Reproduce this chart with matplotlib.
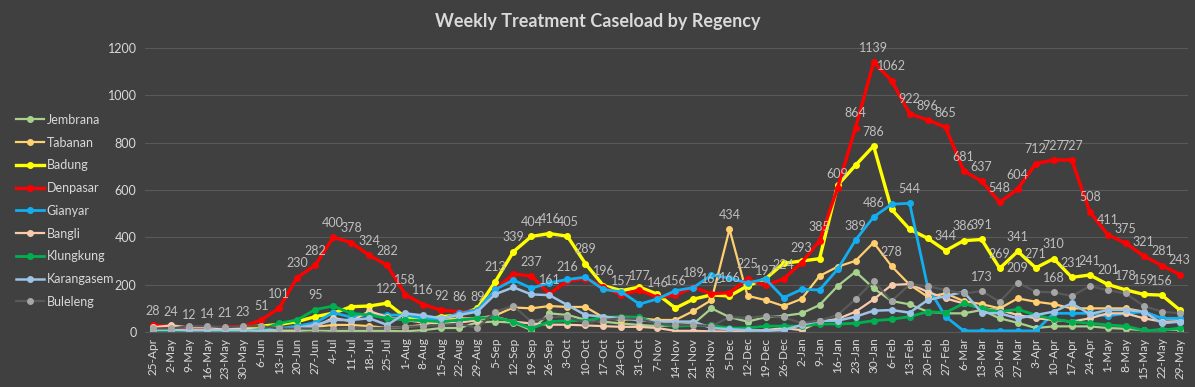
import matplotlib
matplotlib.use("Agg")
import matplotlib.pyplot as plt

plt.rcParams['font.family'] = ['Lato', 'DejaVu Sans']

weeks = ["25-Apr", "2-May", "9-May", "16-May", "23-May", "30-May", "6-Jun", "13-Jun",
         "20-Jun", "27-Jun", "4-Jul", "11-Jul", "18-Jul", "25-Jul", "1-Aug", "8-Aug",
         "15-Aug", "22-Aug", "29-Aug", "5-Sep", "12-Sep", "19-Sep", "26-Sep", "3-Oct",
         "10-Oct", "17-Oct", "24-Oct", "31-Oct", "7-Nov", "14-Nov", "21-Nov", "28-Nov",
         "5-Dec", "12-Dec", "19-Dec", "26-Dec", "2-Jan", "9-Jan", "16-Jan", "23-Jan",
         "30-Jan", "6-Feb", "13-Feb", "20-Feb", "27-Feb", "6-Mar", "13-Mar", "20-Mar",
         "27-Mar", "3-Apr", "10-Apr", "17-Apr", "24-Apr", "1-May", "8-May", "15-May",
         "22-May", "29-May"]

jembrana = [2, 2, 2, 2, 2, 2, 2, 3, 5, 8, 5, 5, 5, 5, 3, 8, 17, 17, 41,
            44, 40, 8, 79, 72, 52, 44, 36, 30, 25, 30, 35, 100, 63, 44,
            63, 68, 79, 114, 194, 255, 185, 131, 117, 86, 79, 79, 93, 58,
            39, 17, 24, 24, 24, 17, 14, 7, 10, 10]
tabanan = [5, 5, 5, 5, 12, 15, 15, 15, 18, 22, 30, 30, 25, 17, 22, 30, 51, 58, 58,
           70, 104, 100, 110, 106, 106, 62, 51, 58, 51, 51, 89, 135, 434, 153,
           135, 110, 140, 237, 276, 301, 378, 278, 200, 149, 163, 131, 118, 100,
           142, 128, 118, 100, 100, 100, 100, 86, 58, 51]
badung = [10, 10, 8, 8, 15, 20, 25, 32, 44, 65, 80, 107, 110, 122, 63, 51, 65, 72, 100,
          213, 339, 404, 416, 405, 289, 196, 175, 190, 160, 101, 139, 157, 152,
          195, 225, 290, 300, 310, 620, 705, 786, 518, 434, 396, 344,
          386, 391, 269, 341, 271, 310, 231, 241, 201, 178, 159, 156, 93]
denpasar = [28, 24, 12, 14, 21, 23, 51, 101, 230, 282, 400, 378, 324, 282, 158, 116,
            92, 86, 89, 180, 245, 237, 161, 216, 226, 190, 157, 177, 146, 156, 189,
            162, 166, 225, 197, 224, 293, 385, 609, 864, 1139, 1062, 922, 896, 865,
            681, 637, 548, 604, 712, 727, 727, 508, 411, 375, 321, 281, 243]
gianyar = [5, 5, 5, 5, 5, 8, 8, 15, 25, 39, 82, 63, 75, 72, 72, 58, 55, 79, 93,
           180, 220, 185, 208, 222, 232, 180, 170, 118, 140, 175, 188, 241, 228,
           207, 224, 145, 180, 178, 265, 389, 486, 540, 544, 191, 65,
           5, 5, 5, 5, 5, 79, 79, 79, 68, 79, 86, 58, 58]
bangli = [20, 28, 20, 20, 15, 15, 12, 10, 12, 22, 60, 45, 89, 63, 51, 40, 35, 40, 50,
          65, 44, 36, 31, 31, 28, 25, 22, 22, 17, 5, 5, 3, 2, 5, 8, 17, 8, 44, 55,
          86, 138, 199, 203, 170, 142, 121, 100, 93, 72, 58, 51, 44, 58, 79, 79,
          58, 44, 44]
klungkung = [2, 2, 2, 2, 3, 5, 10, 37, 51, 95, 110, 79, 72, 58, 51, 48, 44, 51, 58,
             62, 44, 15, 44, 48, 48, 62, 65, 62, 36, 25, 28, 28, 17, 17, 25, 25, 25,
             34, 34, 37, 48, 54, 65, 86, 82, 121, 100, 86, 96, 72, 54, 44, 37, 30,
             25, 7, 7, 17]
karangasem = [10, 10, 8, 8, 8, 8, 5, 12, 18, 30, 51, 51, 58, 30, 79, 70, 58, 72, 86,
              160, 189, 159, 156, 114, 72, 65, 58, 50, 44, 44, 44, 17, 12, 8, 5, 8,
              30, 48, 48, 65, 90, 93, 82, 135, 152, 170, 82, 79, 58, 72, 86, 121,
              76, 93, 93, 86, 37, 44]
buleleng = [15, 15, 25, 25, 20, 25, 25, 15, 15, 15, 13, 17, 17, 17, 22, 25, 30, 35, 17,
            86, 110, 44, 62, 65, 38, 51, 58, 55, 36, 30, 30, 25, 63, 60, 68, 62, 38,
            48, 72, 139, 215, 131, 201, 194, 177, 163, 173, 128, 209, 170, 168, 152,
            194, 177, 163, 110, 86, 79]

# which points carry a value label
labels_denpasar = list(range(0, 19)) + [21, 22, 23] + list(range(26, 58))
labels_badung = [13, 19, 20, 21, 22, 23, 24, 25, 40] + list(range(44, 57))
labels_gianyar = [39, 40, 42]
labels_tabanan = [32, 41]
labels_klungkung = [9]
labels_buleleng = [46, 48, 50]

BG = "#404040"
TXT = "#d9d9d9"

series = [
    ("Jembrana", jembrana, "#a9d18e", 1.6, []),
    ("Tabanan", tabanan, "#ffcf70", 1.6, labels_tabanan),
    ("Badung", badung, "#ffff00", 2.4, labels_badung),
    ("Denpasar", denpasar, "#ff0000", 2.4, labels_denpasar),
    ("Gianyar", gianyar, "#12aef0", 2.0, labels_gianyar),
    ("Bangli", bangli, "#f8cbad", 1.6, []),
    ("Klungkung", klungkung, "#00b050", 2.0, labels_klungkung),
    ("Karangasem", karangasem, "#9dc3e6", 1.8, []),
    ("Buleleng", buleleng, "#595959", 1.6, labels_buleleng),
]


def main():
    fig = plt.figure(figsize=(11.95, 3.87), dpi=100)
    fig.patch.set_facecolor(BG)
    ax = fig.add_axes([0.1213, 0.142, 0.8728, 0.734])
    ax.set_facecolor(BG)

    x = list(range(len(weeks)))
    for name, vals, color, lw, lab in series:
        mfc = "#a6a6a6" if name == "Buleleng" else color
        ax.plot(x, vals, color=color, lw=lw, marker="o", ms=4,
                mfc=mfc, mec=mfc, label=name)
        for i in lab:
            ax.annotate(str(vals[i]), (i, vals[i]), xytext=(0, 6),
                        textcoords="offset points", ha="center", va="bottom",
                        fontsize=9, color="#bfbfbf")

    ax.set_xlim(-0.45, len(weeks) - 0.55)
    ax.set_ylim(0, 1200)
    ax.set_yticks(range(0, 1201, 200))
    ax.set_xticks(x)
    ax.set_xticklabels(weeks, rotation=90, fontsize=8.5, color=TXT)
    ax.tick_params(axis="y", labelsize=9, labelcolor=TXT, length=0, pad=6)
    ax.tick_params(axis="x", length=0, pad=4)
    ax.grid(axis="y", color="#595959", lw=0.8)
    ax.set_axisbelow(True)
    for s in ["top", "right", "left"]:
        ax.spines[s].set_visible(False)
    ax.spines["bottom"].set_color("#595959")

    fig.text(0.5, 0.945, "Weekly Treatment Caseload by Regency", ha="center",
             va="center", fontsize=13, fontweight="bold", color=TXT)

    fig.legend(loc="upper left", bbox_to_anchor=(0.004, 0.735), frameon=False,
               fontsize=9, labelcolor=TXT, handlelength=2.2, handletextpad=0.25,
               labelspacing=0.86)

    fig.savefig("out.png", dpi=100, facecolor=BG)


if __name__ == "__main__":
    main()
